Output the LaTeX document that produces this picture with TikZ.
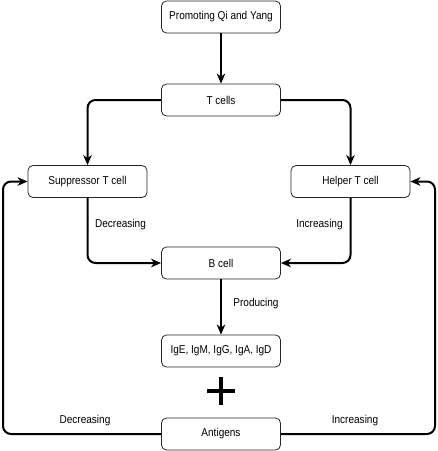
\documentclass[tikz,border=0pt]{standalone}
\usepackage{fontspec}
\setmainfont{Liberation Sans}[FakeStretch=0.88]
\usetikzlibrary{arrows.meta}
\begin{document}
\begin{tikzpicture}[x=1pt,y=-1pt,
  box/.style={draw=black!85,line width=0.8pt,rounded corners=5pt,minimum width=119pt,minimum height=32pt,inner sep=0pt,font=\fontsize{11.4}{13}\selectfont},
  lbl/.style={font=\fontsize{11.4}{13}\selectfont,inner sep=0pt},
  arr/.style={line width=2pt,rounded corners=8pt,-{Stealth[length=10pt,width=8.5pt,inset=3pt]}}]
\useasboundingbox (0,0) rectangle (438,451);
\node[box] (prom) at (221,17) {Promoting Qi and Yang};
\node[box] (tc) at (221,100) {T cells};
\node[box] (supp) at (87.5,181.5) {Suppressor T cell};
\node[box] (help) at (350.5,181.5) {Helper T cell};
\node[box] (bc) at (221,263) {B cell};
\node[box] (ig) at (221,351) {IgE, IgM, IgG, IgA, IgD};
\node[box] (ant) at (221,434) {Antigens};
\coordinate (lx) at (3,0);
\coordinate (rx) at (435,0);
\draw[arr] (prom) -- (tc);
\draw[arr] (tc.west) -| (supp.north);
\draw[arr] (tc.east) -| (help.north);
\draw[arr] (supp.south) |- (bc.west);
\draw[arr] (help.south) |- (bc.east);
\draw[arr] (bc) -- (ig);
\draw[arr] (ant.west) -- (ant.west -| lx) -- (supp.west -| lx) -- (supp.west);
\draw[arr] (ant.east) -- (ant.east -| rx) -- (help.east -| rx) -- (help.east);
\node[lbl] (l1) at (120.5,225) {Decreasing};
\node[lbl] (l2) at (319.5,225) {Increasing};
\node[lbl] (l3) at (256,304) {Producing};
\node[lbl] (l4) at (85,421) {Decreasing};
\node[lbl] (l5) at (355,421) {Increasing};
\draw[line width=3.5pt] (207,391) -- (235,391) (221,377) -- (221,405);
\end{tikzpicture}
\end{document}
